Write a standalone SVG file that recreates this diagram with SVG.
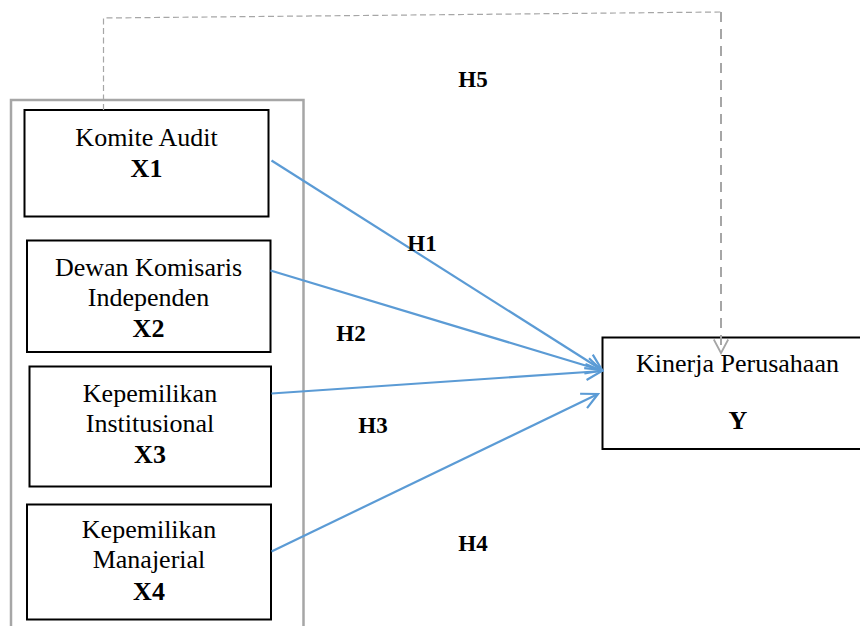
<svg xmlns="http://www.w3.org/2000/svg" width="860" height="626" viewBox="0 0 860 626">
<style>
  .box { fill: #fff; stroke: #000; stroke-width: 2; }
  .t { font-family: "Liberation Serif", "Times New Roman", serif; font-size: 26px; fill: #000; text-anchor: middle; }
  .b { font-weight: bold; }
  .h { font-family: "Liberation Serif", "Times New Roman", serif; font-size: 23px; font-weight: bold; fill: #000; text-anchor: middle; }
  .blue { stroke: #5b9bd5; stroke-width: 2.2; fill: none; }
</style>
<defs>
  <marker id="ab" viewBox="0 0 20 20" refX="18" refY="10" markerWidth="20" markerHeight="20" markerUnits="userSpaceOnUse" orient="auto">
    <path d="M2,2 L18,10 L2,18" fill="none" stroke="#5b9bd5" stroke-width="2.2"/>
  </marker>
  <marker id="ag" viewBox="0 0 20 20" refX="18" refY="10" markerWidth="18" markerHeight="18" markerUnits="userSpaceOnUse" orient="auto">
    <path d="M3,2 L18,10 L3,18" fill="none" stroke="#a6a6a6" stroke-width="2"/>
  </marker>
</defs>
<rect width="860" height="626" fill="#fff"/>
<rect id="group-box" x="11" y="100" width="292.5" height="540" fill="none" stroke="#a6a6a6" stroke-width="2.5"/>
<g id="x1">
  <rect class="box" x="24.5" y="110" width="244" height="106.5"/>
  <text class="t" x="146.5" y="145.5">Komite Audit</text>
  <text class="t b" x="146.5" y="176.5">X1</text>
</g>
<g id="x2">
  <rect class="box" x="27" y="240.5" width="243.5" height="111.5"/>
  <text class="t" x="148.5" y="275.5">Dewan Komisaris</text>
  <text class="t" x="148.5" y="305.5">Independen</text>
  <text class="t b" x="148.5" y="336.5">X2</text>
</g>
<g id="x3">
  <rect class="box" x="29.5" y="366.5" width="241.5" height="120"/>
  <text class="t" x="150" y="401.5">Kepemilikan</text>
  <text class="t" x="150" y="432">Institusional</text>
  <text class="t b" x="150" y="463">X3</text>
</g>
<g id="x4">
  <rect class="box" x="27" y="504.5" width="244" height="115"/>
  <text class="t" x="149" y="538">Kepemilikan</text>
  <text class="t" x="149" y="568">Manajerial</text>
  <text class="t b" x="149" y="600">X4</text>
</g>
<g id="y">
  <rect class="box" x="602.5" y="337.5" width="262" height="111.5"/>
  <text class="t" x="737.5" y="371.5">Kinerja Perusahaan</text>
  <text class="t b" x="738" y="429">Y</text>
</g>
<g id="connectors">
  <path d="M103.5,110 L103.5,18 L721,12" fill="none" stroke="#a6a6a6" stroke-width="1.2" stroke-dasharray="6,3.5"/>
  <path d="M721,12 L721,353" fill="none" stroke="#a6a6a6" stroke-width="2" stroke-dasharray="10,7" marker-end="url(#ag)"/>
  <line class="blue" x1="271.5" y1="160.5" x2="602" y2="370" marker-end="url(#ab)"/>
  <line class="blue" x1="270.5" y1="270.5" x2="602" y2="370.5" marker-end="url(#ab)"/>
  <line class="blue" x1="271.5" y1="393.5" x2="602" y2="371" marker-end="url(#ab)"/>
  <line class="blue" x1="271.5" y1="551.5" x2="598" y2="394" marker-end="url(#ab)"/>
</g>
<g id="labels">
  <text class="h" x="422" y="251">H1</text>
  <text class="h" x="351" y="341">H2</text>
  <text class="h" x="373" y="433">H3</text>
  <text class="h" x="473" y="551">H4</text>
  <text class="h" x="473" y="87">H5</text>
</g>
</svg>
